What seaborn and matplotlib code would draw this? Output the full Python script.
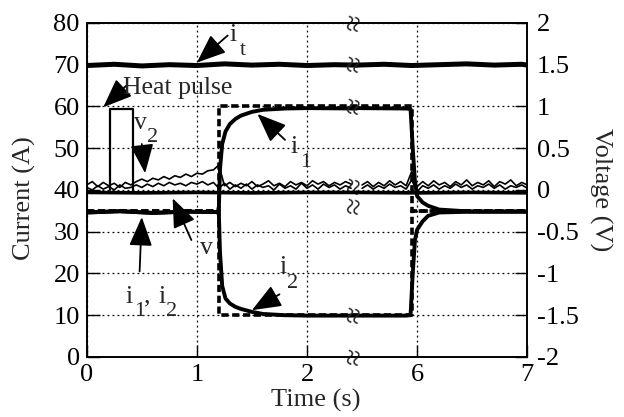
import numpy as np
import matplotlib
matplotlib.use("Agg")
import matplotlib.pyplot as plt
import seaborn as sns

# ---- data (time in s, currents in A, voltages in V) ----
# reference (commanded) currents, dashed
ref_t = [0, 1.2, 1.2, 5.95, 5.95, 7.0]
i1_ref = [35, 35, 60, 60, 35, 35]
i2_ref = [35, 35, 10, 10, 35, 35]

# measured currents
meas_t = [0, 0.3, 0.6, 0.9, 1.19, 1.2, 1.21, 1.23, 1.26, 1.3, 1.35, 1.4, 1.5, 1.6, 1.8, 2.0,
          2.45, 5.45, 5.9, 5.94, 5.96, 5.98, 6.0, 6.05, 6.1, 6.2, 6.5, 7.0]
i1_meas = [34.6, 34.9, 34.5, 34.8, 34.7, 36, 45, 51, 54, 55.8, 57, 57.8, 58.7, 59.2, 59.5, 59.6,
           59.5, 59.6, 59.5, 59.4, 50, 42, 38.5, 37, 36.2, 35.3, 34.8, 34.8]
i2_meas = [34.6, 34.9, 34.5, 34.8, 34.7, 34, 25, 17, 14, 12.8, 12, 11.5, 10.8, 10.3, 10.0, 9.9,
           9.9, 9.9, 9.9, 10.0, 20, 28, 30.5, 32.5, 33.8, 34.6, 34.8, 34.8]

# total current i_t
it_t = [0, 0.25, 0.5, 0.75, 1.0, 1.25, 1.5, 1.75, 2.0, 2.25, 2.45,
        5.45, 5.7, 5.95, 6.2, 6.45, 6.7, 6.95, 7.0]
it_vals = [69.8, 70.1, 69.7, 70.0, 69.8, 70.2, 69.9, 70.1, 69.8, 70.0, 69.9,
           69.9, 70.1, 69.8, 70.0, 70.2, 69.9, 70.1, 69.9]

# heat pulse (V)
pulse_t = [0.21, 0.21, 0.42, 0.42]
pulse_v = [0.0, 0.97, 0.97, -0.03]

# thick voltage baseline
base_t = [0, 0.5, 1.0, 1.5, 2.0, 2.45, 5.45, 6.0, 6.5, 7.0]
base_v = [-0.03, -0.035, -0.03, -0.035, -0.03, -0.03, -0.03, -0.035, -0.03, -0.035]

# noisy voltage traces, sampled every 0.05 s
va_t = np.round(np.arange(0, 2.41, 0.05), 2)
vb_t = np.round(np.arange(5.5, 7.01, 0.05), 2)
v2_a = [0.06, 0.10, 0.04, 0.09, 0.05, 0.08, 0.03, 0.09, 0.06, 0.10,
        0.13, 0.10, 0.14, 0.12, 0.16, 0.13, 0.17, 0.15, 0.19, 0.16,
        0.20, 0.19, 0.23, 0.24, 0.30, 0.05, 0.09, 0.04, 0.08, 0.05,
        0.10, 0.04, 0.07, 0.11, 0.05, 0.08, 0.04, 0.10, 0.06, 0.09,
        0.05, 0.11, 0.07, 0.10, 0.05, 0.09, 0.06, 0.10, 0.07]
v_a = [0.03, 0.00, 0.05, 0.01, 0.04, 0.00, 0.06, 0.02, 0.03, 0.06,
       0.03, 0.07, 0.04, 0.08, 0.05, 0.09, 0.06, 0.08, 0.05, 0.09,
       0.07, 0.10, 0.06, 0.09, 0.02, 0.08, 0.01, 0.06, 0.02, 0.07,
       0.01, 0.06, 0.03, 0.05, 0.00, 0.07, 0.02, 0.05, 0.01, 0.08,
       0.02, 0.06, 0.01, 0.07, 0.03, 0.06, 0.01, 0.05, 0.02]
v2_b = [0.06, 0.10, 0.04, 0.09, 0.05, 0.11, 0.06, 0.10, 0.05, 0.22,
        0.04, 0.10, 0.05, 0.11, 0.06, 0.09, 0.04, 0.10, 0.06, 0.12,
        0.05, 0.09, 0.06, 0.11, 0.04, 0.10, 0.07, 0.12, 0.05, 0.09, 0.06]
v_b = [0.02, 0.06, 0.01, 0.05, 0.02, 0.07, 0.03, 0.05, 0.01, 0.12,
       -0.02, 0.05, 0.02, 0.06, 0.01, 0.05, 0.02, 0.07, 0.03, 0.06,
       0.01, 0.05, 0.03, 0.07, 0.02, 0.06, 0.01, 0.05, 0.03, 0.06, 0.02]

x_ticks = [0, 1, 2, 6, 7]
break_levels = [80, 70, 60, 41, 36, 10, 0]

# ---- style ----
sns.set_style("ticks")
plt.rcParams["font.family"] = ["Liberation Serif", "DejaVu Serif"]

fig = plt.figure(figsize=(6.24, 4.17), dpi=100)
ax = fig.add_axes([0.139, 0.144, 0.706, 0.801])

# broken time axis: 2.45..5.45 s squeezed out
brk_t = [0, 2.45, 5.45, 7.0]
brk_p = [0, 2.45, 2.4501, 4.0]
ax.set_xscale("function", functions=(lambda t: np.interp(t, brk_t, brk_p),
                                     lambda p: np.interp(p, brk_p, brk_t)))

def seg(x, y, axis, **kw):
    sns.lineplot(x=x, y=y, ax=axis, estimator=None, sort=False, color="black", **kw)

# currents
seg(ref_t, i1_ref, ax, lw=2.6, linestyle=(0, (2.0, 1.0)))
seg(ref_t, i2_ref, ax, lw=2.6, linestyle=(0, (2.0, 1.0)))
seg(meas_t, i1_meas, ax, lw=2.8)
seg(meas_t, i2_meas, ax, lw=2.8)
seg(it_t[:11], it_vals[:11], ax, lw=3.6)
seg(it_t[11:], it_vals[11:], ax, lw=3.6)

fs = 19
ax.set_xlim(0, 7)
ax.set_ylim(0, 80)
ax.set_xticks(x_ticks)
ax.set_xticklabels([str(t) for t in x_ticks])
ax.set_yticks(range(0, 81, 10))
ax.grid(True, color="black", linestyle=(0, (1.5, 2.5)), lw=0.9)
ax.tick_params(direction="in", length=9, width=1, labelsize=fs, pad=5, colors="black")
ax.set_xlabel("Time (s)", fontsize=fs, va="center")
ax.set_ylabel("Current (A)", fontsize=fs, va="center")
ax.xaxis.set_label_coords(0.52, -0.13)
ax.yaxis.set_label_coords(-0.141, 0.475)
for s in ax.spines.values():
    s.set_linewidth(1.2)
    s.set_color("black")

# voltages on the right axis
ax2 = ax.twinx()
seg(pulse_t, pulse_v, ax2, lw=1.6)
seg(base_t[:6], base_v[:6], ax2, lw=2.6)
seg(base_t[6:], base_v[6:], ax2, lw=2.6)
seg(va_t, v2_a, ax2, lw=1.2)
seg(va_t, v_a, ax2, lw=1.2)
seg(vb_t, v2_b, ax2, lw=1.2)
seg(vb_t, v_b, ax2, lw=1.2)
ax2.set_ylim(-2, 2)
ax2.set_yticks([-2, -1.5, -1, -0.5, 0, 0.5, 1, 1.5, 2])
ax2.set_yticklabels(["-2", "-1.5", "-1", "-0.5", "0", "0.5", "1", "1.5", "2"])
ax2.tick_params(direction="in", length=9, width=1, labelsize=fs, pad=7, colors="black")
ax2.set_ylabel("Voltage (V)", fontsize=fs, rotation=270, va="center", ha="center")
ax2.yaxis.set_label_coords(1.166, 0.5)
for s in ax2.spines.values():
    s.set_linewidth(1.2)
    s.set_color("black")

# axis-break marks
for lev in break_levels:
    ax.text(2.44, lev, "\u2248", rotation=80, fontsize=22, ha="center", va="center",
            clip_on=False, zorder=10)

# annotations: arrows, then labels with hand-placed subscripts
arrow = dict(arrowstyle="-|>,head_length=1.0,head_width=0.4", color="black", lw=1.3,
             shrinkA=0, shrinkB=0, mutation_scale=18)
afs, sfs = 18.5, 16
ax.annotate("", xy=(1.0, 70.5), xytext=(1.28, 77), arrowprops=arrow)
ax.annotate("", xy=(0.15, 59.8), xytext=(0.36, 65), arrowprops=arrow)
ax.annotate("", xy=(0.53, 44), xytext=(0.5, 51), arrowprops=arrow)
ax.annotate("", xy=(1.55, 58.2), xytext=(1.8, 52), arrowprops=arrow)
ax.annotate("", xy=(0.78, 38), xytext=(0.95, 28), arrowprops=arrow)
ax.annotate("", xy=(0.5, 33.5), xytext=(0.48, 20.5), arrowprops=arrow)
ax.annotate("", xy=(1.5, 11.2), xytext=(1.75, 15), arrowprops=arrow)

ax.text(0.33, 64.5, "Heat pulse", fontsize=afs, va="center")
ax.text(1.03, 26, "v", fontsize=afs, va="center")
main_labels = [("i", 1.30, 77.0), ("v", 0.43, 56.0), ("i", 1.85, 50.3), ("i", 1.75, 21.6),
               ("i", 0.35, 14.4), (",", 0.52, 14.4), ("i", 0.65, 14.4)]
sub_labels = [("t", 1.39, 73.3), ("2", 0.55, 52.5), ("1", 1.94, 46.5), ("2", 1.82, 17.7),
              ("1", 0.43, 11.0), ("2", 0.72, 11.0)]
for txt, x, y in main_labels:
    ax.text(x, y, txt, fontsize=afs, va="center")
for txt, x, y in sub_labels:
    ax.text(x, y, txt, fontsize=sfs, va="center")

fig.savefig("out.png", dpi=100)
